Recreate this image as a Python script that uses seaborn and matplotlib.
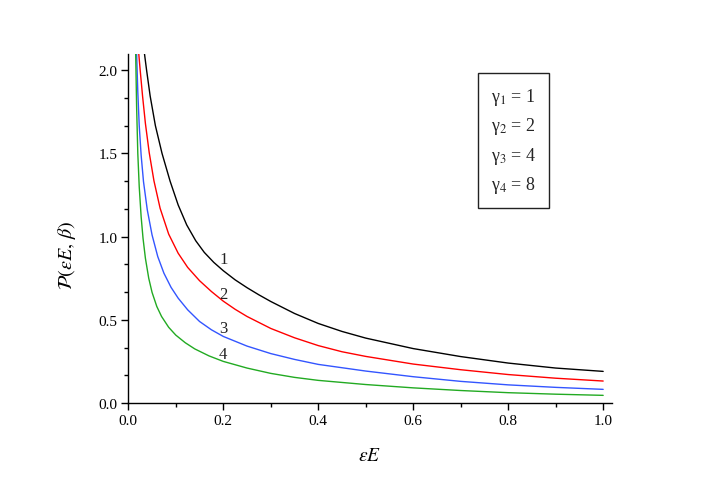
"""Probability curves P(eE, beta) for four gamma values."""

import matplotlib

matplotlib.use("Agg")
import matplotlib.pyplot as plt
import pandas as pd
import seaborn as sns
from matplotlib.ticker import FormatStrFormatter, MultipleLocator

# values
X_1 = [0.034, 0.0385, 0.046, 0.057, 0.071, 0.088, 0.105, 0.123, 0.142, 0.160,
       0.180, 0.200, 0.225, 0.250, 0.275, 0.300, 0.350, 0.400, 0.450, 0.500, 0.600,
       0.700, 0.800, 0.900, 1.000]
Y_1 = [2.100, 2.000, 1.845, 1.667, 1.500, 1.333, 1.190, 1.070, 0.975, 0.905,
       0.845, 0.795, 0.740, 0.693, 0.650, 0.610, 0.538, 0.478, 0.430, 0.390, 0.327,
       0.279, 0.240, 0.210, 0.190]

X_2 = [0.022, 0.025, 0.030, 0.036, 0.044, 0.054, 0.067, 0.085, 0.105, 0.125, 0.150,
       0.175, 0.200, 0.225, 0.250, 0.300, 0.350, 0.400, 0.450, 0.500, 0.600, 0.700,
       0.800, 0.900, 1.000]
Y_2 = [2.100, 2.000, 1.845, 1.680, 1.505, 1.335, 1.170, 1.015, 0.900, 0.815, 0.735,
       0.670, 0.612, 0.563, 0.520, 0.448, 0.392, 0.345, 0.308, 0.280, 0.234, 0.200,
       0.171, 0.149, 0.132]

X_3 = [0.0175, 0.020, 0.023, 0.027, 0.032, 0.040, 0.050, 0.062, 0.075, 0.090, 0.105,
       0.125, 0.150, 0.175, 0.200, 0.250, 0.300, 0.350, 0.400, 0.500, 0.600, 0.700,
       0.800, 0.900, 1.000]
Y_3 = [2.100, 1.870, 1.667, 1.490, 1.330, 1.160, 1.010, 0.880, 0.780, 0.695, 0.630,
       0.560, 0.490, 0.440, 0.400, 0.342, 0.297, 0.262, 0.232, 0.192, 0.158, 0.130,
       0.109, 0.094, 0.082]

X_4 = [0.0155, 0.0175, 0.020, 0.023, 0.027, 0.031, 0.036, 0.043, 0.050, 0.060, 0.070,
       0.085, 0.100, 0.120, 0.140, 0.170, 0.200, 0.250, 0.300, 0.350, 0.400, 0.500,
       0.600, 0.700, 0.800, 0.900, 1.000]
Y_4 = [2.100, 1.780, 1.500, 1.300, 1.120, 0.990, 0.870, 0.750, 0.665, 0.580, 0.520,
       0.455, 0.408, 0.362, 0.325, 0.283, 0.250, 0.210, 0.178, 0.154, 0.136, 0.111,
       0.091, 0.075, 0.062, 0.053, 0.046]

CURVES = ["1", "2", "3", "4"]
COLORS = ["#000000", "#ff0000", "#3355ff", "#22aa22"]
LEGEND_LINES = ["γ$_1$ = 1", "γ$_2$ = 2", "γ$_3$ = 4", "γ$_4$ = 8"]
LABEL_X = [0.2, 0.2, 0.2, 0.2]
LABEL_Y = [0.865, 0.654, 0.448, 0.294]


def build_frame() -> pd.DataFrame:
    frames = []
    for name, xs, ys in zip(CURVES, [X_1, X_2, X_3, X_4], [Y_1, Y_2, Y_3, Y_4]):
        frames.append(pd.DataFrame({"x": xs, "y": ys, "curve": name}))
    return pd.concat(frames, ignore_index=True)


def main() -> None:
    sns.set_theme(style="ticks")
    plt.rcParams["font.family"] = ["Liberation Serif", "DejaVu Serif"]
    plt.rcParams["mathtext.fontset"] = "stix"

    data = build_frame()
    fig = plt.figure(figsize=(7.2, 4.85), dpi=100)
    ax = fig.add_axes([0.1782, 0.167, 0.6714, 0.7206])

    sns.lineplot(
        data=data,
        x="x",
        y="y",
        hue="curve",
        hue_order=CURVES,
        palette=COLORS,
        estimator=None,
        legend=False,
        linewidth=1.0,
        ax=ax,
    )

    ax.set_xlim(0, 1.018)
    ax.set_ylim(0, 2.1)
    ax.xaxis.set_major_locator(MultipleLocator(0.2))
    ax.xaxis.set_minor_locator(MultipleLocator(0.1))
    ax.yaxis.set_major_locator(MultipleLocator(0.5))
    ax.yaxis.set_minor_locator(MultipleLocator(0.5 / 3))
    ax.xaxis.set_major_formatter(FormatStrFormatter("%.1f"))
    ax.yaxis.set_major_formatter(FormatStrFormatter("%.1f"))
    ax.tick_params(which="major", direction="out", length=5, width=1, labelsize=11,
                   color="black", labelcolor="black", pad=3)
    ax.tick_params(which="minor", direction="out", length=3, width=1, color="black")

    for side in ["top", "right"]:
        ax.spines[side].set_visible(False)
    for side in ["left", "bottom"]:
        ax.spines[side].set_color("black")
        ax.spines[side].set_linewidth(1.0)

    ax.set_xlabel(r"$\varepsilon E$", fontsize=14, labelpad=14, color="black")
    ax.set_ylabel(r"$\mathcal{P}(\varepsilon E,\, \beta)$", fontsize=14.5, color="black")
    ax.yaxis.set_label_coords(-0.104, 0.426)

    for text, lx, ly in zip(CURVES, LABEL_X, LABEL_Y):
        ax.text(lx, ly, text, fontsize=12, ha="center", va="center", color="#222222")

    box_text = "\n".join(LEGEND_LINES)
    fig.text(
        0.7132, 0.708, box_text,
        fontsize=13, ha="center", va="center", linespacing=1.55,
        bbox=dict(boxstyle="square,pad=0.72", facecolor="white", edgecolor="#222222",
                  linewidth=1.0),
    )

    fig.savefig("out.png", dpi=100)
    plt.close(fig)


if __name__ == "__main__":
    main()
